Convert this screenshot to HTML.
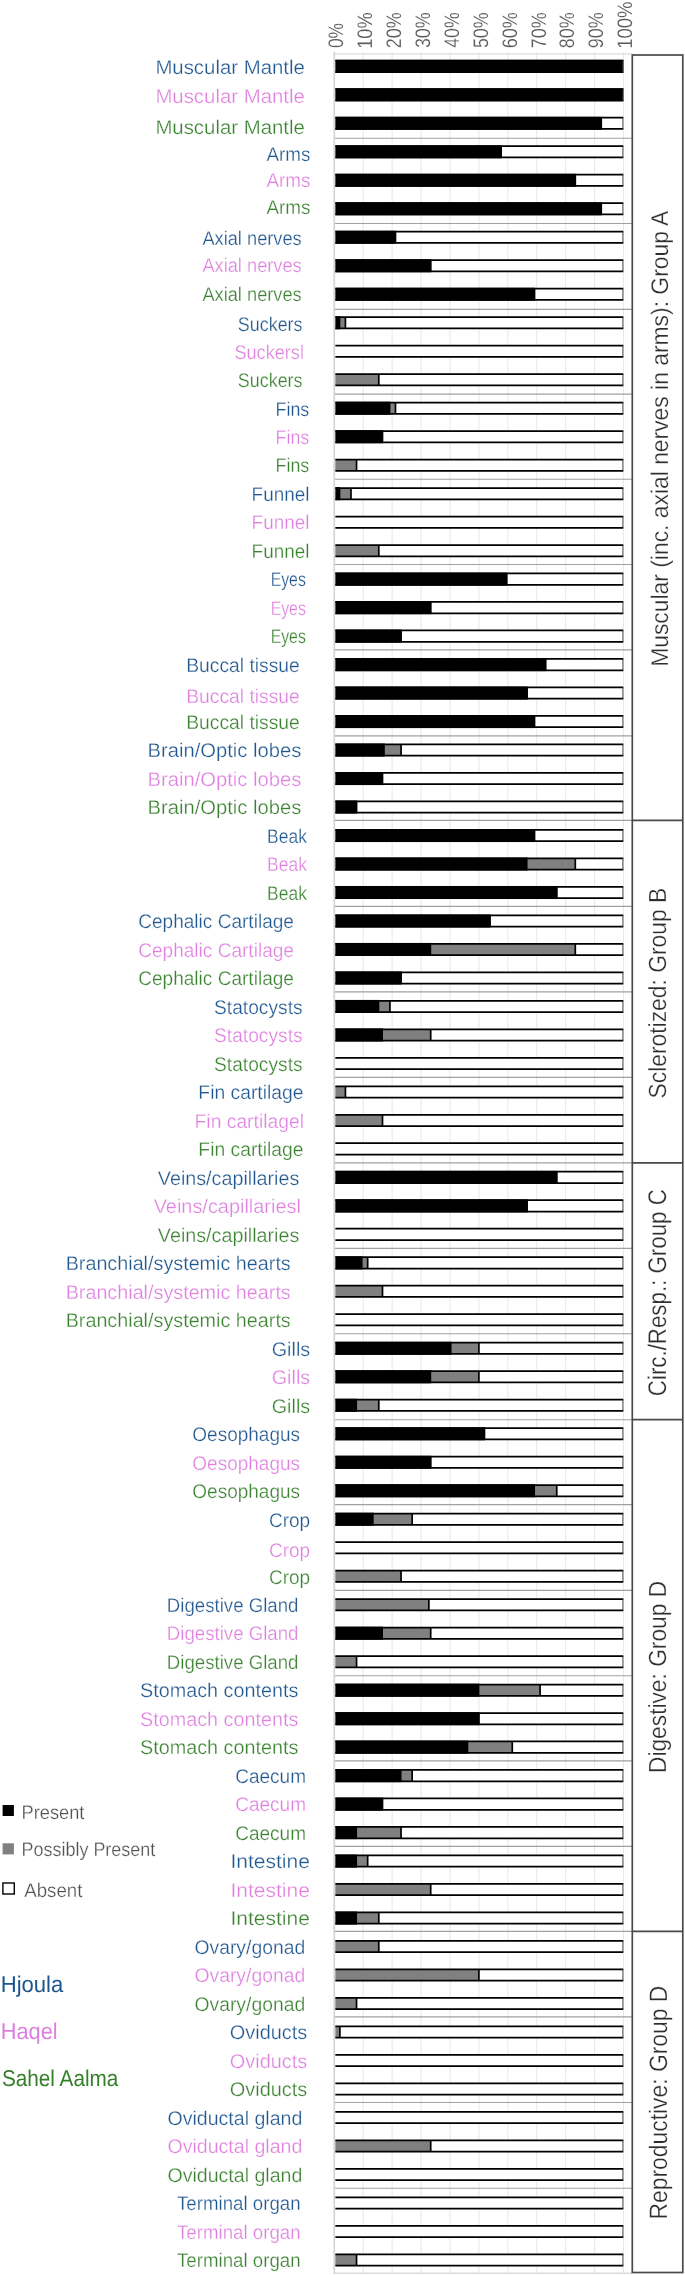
<!DOCTYPE html>
<html><head><meta charset="utf-8"><title>Chart</title>
<style>html,body{margin:0;padding:0;background:#fff}svg{display:block}</style></head>
<body>
<svg width="685" height="2276" viewBox="0 0 685 2276" font-family="'Liberation Sans', sans-serif" text-rendering="geometricPrecision">
<rect width="685" height="2276" fill="#fff"/>
<g stroke="#e9e9e9" stroke-width="1.1">
<line x1="334.30" y1="52.10" x2="334.30" y2="2273.90"/>
<line x1="363.22" y1="52.10" x2="363.22" y2="2273.90"/>
<line x1="392.14" y1="52.10" x2="392.14" y2="2273.90"/>
<line x1="421.06" y1="52.10" x2="421.06" y2="2273.90"/>
<line x1="449.98" y1="52.10" x2="449.98" y2="2273.90"/>
<line x1="478.90" y1="52.10" x2="478.90" y2="2273.90"/>
<line x1="507.82" y1="52.10" x2="507.82" y2="2273.90"/>
<line x1="536.74" y1="52.10" x2="536.74" y2="2273.90"/>
<line x1="565.66" y1="52.10" x2="565.66" y2="2273.90"/>
<line x1="594.58" y1="52.10" x2="594.58" y2="2273.90"/>
<line x1="623.50" y1="52.10" x2="623.50" y2="2273.90"/>
</g>
<g stroke="#a0a0a0" stroke-width="1.15">
<line x1="333.80" y1="138.26" x2="632.30" y2="138.26"/>
<line x1="333.80" y1="223.50" x2="632.30" y2="223.50"/>
<line x1="333.80" y1="309.30" x2="632.30" y2="309.30"/>
<line x1="333.80" y1="394.10" x2="632.30" y2="394.10"/>
<line x1="333.80" y1="479.20" x2="632.30" y2="479.20"/>
<line x1="333.80" y1="564.50" x2="632.30" y2="564.50"/>
<line x1="333.80" y1="649.90" x2="632.30" y2="649.90"/>
<line x1="333.80" y1="735.84" x2="632.30" y2="735.84"/>
<line x1="333.80" y1="820.40" x2="632.30" y2="820.40"/>
<line x1="333.80" y1="906.40" x2="632.30" y2="906.40"/>
<line x1="333.80" y1="991.80" x2="632.30" y2="991.80"/>
<line x1="333.80" y1="1077.40" x2="632.30" y2="1077.40"/>
<line x1="333.80" y1="1162.80" x2="632.30" y2="1162.80"/>
<line x1="333.80" y1="1248.36" x2="632.30" y2="1248.36"/>
<line x1="333.80" y1="1333.78" x2="632.30" y2="1333.78"/>
<line x1="333.80" y1="1419.70" x2="632.30" y2="1419.70"/>
<line x1="333.80" y1="1504.62" x2="632.30" y2="1504.62"/>
<line x1="333.80" y1="1590.30" x2="632.30" y2="1590.30"/>
<line x1="333.80" y1="1675.70" x2="632.30" y2="1675.70"/>
<line x1="333.80" y1="1760.90" x2="632.30" y2="1760.90"/>
<line x1="333.80" y1="1846.40" x2="632.30" y2="1846.40"/>
<line x1="333.80" y1="1931.30" x2="632.30" y2="1931.30"/>
<line x1="333.80" y1="2016.90" x2="632.30" y2="2016.90"/>
<line x1="333.80" y1="2102.50" x2="632.30" y2="2102.50"/>
<line x1="333.80" y1="2188.20" x2="632.30" y2="2188.20"/>
</g>
<g stroke="#dcdcdc" stroke-width="1.4">
<line x1="333.70" y1="53.9" x2="632.30" y2="53.9"/>
<line x1="333.70" y1="2273.2" x2="632.30" y2="2273.2"/>
</g>
<g><rect x="335.30" y="60.70" width="287.60" height="11.3" fill="#fff"/><rect x="335.30" y="59.82" width="288.10" height="13.05" fill="#000"/><rect x="335.30" y="89.19" width="287.60" height="11.3" fill="#fff"/><rect x="335.30" y="88.31" width="288.10" height="13.05" fill="#000"/><rect x="335.30" y="117.68" width="287.60" height="11.3" fill="#fff"/><rect x="335.30" y="116.80" width="266.45" height="13.05" fill="#000"/><rect x="335.30" y="146.16" width="287.60" height="11.3" fill="#fff"/><rect x="335.30" y="145.29" width="166.35" height="13.05" fill="#000"/><rect x="335.30" y="174.65" width="287.60" height="11.3" fill="#fff"/><rect x="335.30" y="173.78" width="240.50" height="13.05" fill="#000"/><rect x="335.30" y="203.14" width="287.60" height="11.3" fill="#fff"/><rect x="335.30" y="202.26" width="266.45" height="13.05" fill="#000"/><rect x="335.30" y="231.63" width="287.60" height="11.3" fill="#fff"/><rect x="335.30" y="230.75" width="60.68" height="13.05" fill="#000"/><rect x="335.30" y="260.12" width="287.60" height="11.3" fill="#fff"/><rect x="335.30" y="259.24" width="95.90" height="13.05" fill="#000"/><rect x="335.30" y="288.60" width="287.60" height="11.3" fill="#fff"/><rect x="335.30" y="287.73" width="199.72" height="13.05" fill="#000"/><rect x="335.30" y="317.09" width="287.60" height="11.3" fill="#fff"/><rect x="339.86" y="317.09" width="5.56" height="11.3" fill="#808080"/><rect x="335.30" y="316.22" width="5.06" height="13.05" fill="#000"/><rect x="335.30" y="345.58" width="287.60" height="11.3" fill="#fff"/><rect x="335.30" y="374.07" width="287.60" height="11.3" fill="#fff"/><rect x="335.30" y="374.07" width="43.49" height="11.3" fill="#808080"/><rect x="335.30" y="402.56" width="287.60" height="11.3" fill="#fff"/><rect x="389.92" y="402.56" width="5.56" height="11.3" fill="#808080"/><rect x="335.30" y="401.68" width="55.12" height="13.05" fill="#000"/><rect x="335.30" y="431.04" width="287.60" height="11.3" fill="#fff"/><rect x="335.30" y="430.17" width="47.70" height="13.05" fill="#000"/><rect x="335.30" y="459.53" width="287.60" height="11.3" fill="#fff"/><rect x="335.30" y="459.53" width="21.25" height="11.3" fill="#808080"/><rect x="335.30" y="488.02" width="287.60" height="11.3" fill="#fff"/><rect x="339.86" y="488.02" width="11.12" height="11.3" fill="#808080"/><rect x="335.30" y="487.14" width="5.06" height="13.05" fill="#000"/><rect x="335.30" y="516.51" width="287.60" height="11.3" fill="#fff"/><rect x="335.30" y="545.00" width="287.60" height="11.3" fill="#fff"/><rect x="335.30" y="545.00" width="43.49" height="11.3" fill="#808080"/><rect x="335.30" y="573.48" width="287.60" height="11.3" fill="#fff"/><rect x="335.30" y="572.61" width="171.91" height="13.05" fill="#000"/><rect x="335.30" y="601.97" width="287.60" height="11.3" fill="#fff"/><rect x="335.30" y="601.10" width="95.90" height="13.05" fill="#000"/><rect x="335.30" y="630.46" width="287.60" height="11.3" fill="#fff"/><rect x="335.30" y="629.59" width="66.24" height="13.05" fill="#000"/><rect x="335.30" y="658.95" width="287.60" height="11.3" fill="#fff"/><rect x="335.30" y="658.07" width="210.84" height="13.05" fill="#000"/><rect x="335.30" y="687.44" width="287.60" height="11.3" fill="#fff"/><rect x="335.30" y="686.56" width="192.30" height="13.05" fill="#000"/><rect x="335.30" y="715.92" width="287.60" height="11.3" fill="#fff"/><rect x="335.30" y="715.05" width="199.72" height="13.05" fill="#000"/><rect x="335.30" y="744.41" width="287.60" height="11.3" fill="#fff"/><rect x="384.35" y="744.41" width="16.68" height="11.3" fill="#808080"/><rect x="335.30" y="743.54" width="49.55" height="13.05" fill="#000"/><rect x="335.30" y="772.90" width="287.60" height="11.3" fill="#fff"/><rect x="335.30" y="772.03" width="47.70" height="13.05" fill="#000"/><rect x="335.30" y="801.39" width="287.60" height="11.3" fill="#fff"/><rect x="335.30" y="800.51" width="21.75" height="13.05" fill="#000"/><rect x="335.30" y="829.88" width="287.60" height="11.3" fill="#fff"/><rect x="335.30" y="829.00" width="199.72" height="13.05" fill="#000"/><rect x="335.30" y="858.36" width="287.60" height="11.3" fill="#fff"/><rect x="527.10" y="858.36" width="48.20" height="11.3" fill="#808080"/><rect x="335.30" y="857.49" width="192.30" height="13.05" fill="#000"/><rect x="335.30" y="886.85" width="287.60" height="11.3" fill="#fff"/><rect x="335.30" y="885.98" width="221.96" height="13.05" fill="#000"/><rect x="335.30" y="915.34" width="287.60" height="11.3" fill="#fff"/><rect x="335.30" y="914.47" width="155.22" height="13.05" fill="#000"/><rect x="335.30" y="943.83" width="287.60" height="11.3" fill="#fff"/><rect x="430.70" y="943.83" width="144.60" height="11.3" fill="#808080"/><rect x="335.30" y="942.95" width="95.90" height="13.05" fill="#000"/><rect x="335.30" y="972.32" width="287.60" height="11.3" fill="#fff"/><rect x="335.30" y="971.44" width="66.24" height="13.05" fill="#000"/><rect x="335.30" y="1000.80" width="287.60" height="11.3" fill="#fff"/><rect x="378.79" y="1000.80" width="11.12" height="11.3" fill="#808080"/><rect x="335.30" y="999.93" width="43.99" height="13.05" fill="#000"/><rect x="335.30" y="1029.29" width="287.60" height="11.3" fill="#fff"/><rect x="382.50" y="1029.29" width="48.20" height="11.3" fill="#808080"/><rect x="335.30" y="1028.42" width="47.70" height="13.05" fill="#000"/><rect x="335.30" y="1057.78" width="287.60" height="11.3" fill="#fff"/><rect x="335.30" y="1086.27" width="287.60" height="11.3" fill="#fff"/><rect x="335.30" y="1086.27" width="10.12" height="11.3" fill="#808080"/><rect x="335.30" y="1114.76" width="287.60" height="11.3" fill="#fff"/><rect x="335.30" y="1114.76" width="47.20" height="11.3" fill="#808080"/><rect x="335.30" y="1143.24" width="287.60" height="11.3" fill="#fff"/><rect x="335.30" y="1171.73" width="287.60" height="11.3" fill="#fff"/><rect x="335.30" y="1170.86" width="221.96" height="13.05" fill="#000"/><rect x="335.30" y="1200.22" width="287.60" height="11.3" fill="#fff"/><rect x="335.30" y="1199.34" width="192.30" height="13.05" fill="#000"/><rect x="335.30" y="1228.71" width="287.60" height="11.3" fill="#fff"/><rect x="335.30" y="1257.20" width="287.60" height="11.3" fill="#fff"/><rect x="362.11" y="1257.20" width="5.56" height="11.3" fill="#808080"/><rect x="335.30" y="1256.32" width="27.31" height="13.05" fill="#000"/><rect x="335.30" y="1285.68" width="287.60" height="11.3" fill="#fff"/><rect x="335.30" y="1285.68" width="47.20" height="11.3" fill="#808080"/><rect x="335.30" y="1314.17" width="287.60" height="11.3" fill="#fff"/><rect x="335.30" y="1342.66" width="287.60" height="11.3" fill="#fff"/><rect x="451.09" y="1342.66" width="27.81" height="11.3" fill="#808080"/><rect x="335.30" y="1341.78" width="116.29" height="13.05" fill="#000"/><rect x="335.30" y="1371.15" width="287.60" height="11.3" fill="#fff"/><rect x="430.70" y="1371.15" width="48.20" height="11.3" fill="#808080"/><rect x="335.30" y="1370.27" width="95.90" height="13.05" fill="#000"/><rect x="335.30" y="1399.64" width="287.60" height="11.3" fill="#fff"/><rect x="356.55" y="1399.64" width="22.25" height="11.3" fill="#808080"/><rect x="335.30" y="1398.76" width="21.75" height="13.05" fill="#000"/><rect x="335.30" y="1428.12" width="287.60" height="11.3" fill="#fff"/><rect x="335.30" y="1427.25" width="149.66" height="13.05" fill="#000"/><rect x="335.30" y="1456.61" width="287.60" height="11.3" fill="#fff"/><rect x="335.30" y="1455.74" width="95.90" height="13.05" fill="#000"/><rect x="335.30" y="1485.10" width="287.60" height="11.3" fill="#fff"/><rect x="534.52" y="1485.10" width="22.25" height="11.3" fill="#808080"/><rect x="335.30" y="1484.22" width="199.72" height="13.05" fill="#000"/><rect x="335.30" y="1513.59" width="287.60" height="11.3" fill="#fff"/><rect x="373.23" y="1513.59" width="38.93" height="11.3" fill="#808080"/><rect x="335.30" y="1512.71" width="38.43" height="13.05" fill="#000"/><rect x="335.30" y="1542.08" width="287.60" height="11.3" fill="#fff"/><rect x="335.30" y="1570.56" width="287.60" height="11.3" fill="#fff"/><rect x="335.30" y="1570.56" width="65.74" height="11.3" fill="#808080"/><rect x="335.30" y="1599.05" width="287.60" height="11.3" fill="#fff"/><rect x="335.30" y="1599.05" width="93.55" height="11.3" fill="#808080"/><rect x="335.30" y="1627.54" width="287.60" height="11.3" fill="#fff"/><rect x="382.50" y="1627.54" width="48.20" height="11.3" fill="#808080"/><rect x="335.30" y="1626.66" width="47.70" height="13.05" fill="#000"/><rect x="335.30" y="1656.03" width="287.60" height="11.3" fill="#fff"/><rect x="335.30" y="1656.03" width="21.25" height="11.3" fill="#808080"/><rect x="335.30" y="1684.52" width="287.60" height="11.3" fill="#fff"/><rect x="478.90" y="1684.52" width="61.18" height="11.3" fill="#808080"/><rect x="335.30" y="1683.64" width="144.10" height="13.05" fill="#000"/><rect x="335.30" y="1713.00" width="287.60" height="11.3" fill="#fff"/><rect x="335.30" y="1712.13" width="144.10" height="13.05" fill="#000"/><rect x="335.30" y="1741.49" width="287.60" height="11.3" fill="#fff"/><rect x="467.78" y="1741.49" width="44.49" height="11.3" fill="#808080"/><rect x="335.30" y="1740.62" width="132.98" height="13.05" fill="#000"/><rect x="335.30" y="1769.98" width="287.60" height="11.3" fill="#fff"/><rect x="401.04" y="1769.98" width="11.12" height="11.3" fill="#808080"/><rect x="335.30" y="1769.10" width="66.24" height="13.05" fill="#000"/><rect x="335.30" y="1798.47" width="287.60" height="11.3" fill="#fff"/><rect x="335.30" y="1797.59" width="47.70" height="13.05" fill="#000"/><rect x="335.30" y="1826.96" width="287.60" height="11.3" fill="#fff"/><rect x="356.55" y="1826.96" width="44.49" height="11.3" fill="#808080"/><rect x="335.30" y="1826.08" width="21.75" height="13.05" fill="#000"/><rect x="335.30" y="1855.44" width="287.60" height="11.3" fill="#fff"/><rect x="356.55" y="1855.44" width="11.12" height="11.3" fill="#808080"/><rect x="335.30" y="1854.57" width="21.75" height="13.05" fill="#000"/><rect x="335.30" y="1883.93" width="287.60" height="11.3" fill="#fff"/><rect x="335.30" y="1883.93" width="95.40" height="11.3" fill="#808080"/><rect x="335.30" y="1912.42" width="287.60" height="11.3" fill="#fff"/><rect x="356.55" y="1912.42" width="22.25" height="11.3" fill="#808080"/><rect x="335.30" y="1911.54" width="21.75" height="13.05" fill="#000"/><rect x="335.30" y="1940.91" width="287.60" height="11.3" fill="#fff"/><rect x="335.30" y="1940.91" width="43.49" height="11.3" fill="#808080"/><rect x="335.30" y="1969.40" width="287.60" height="11.3" fill="#fff"/><rect x="335.30" y="1969.40" width="143.60" height="11.3" fill="#808080"/><rect x="335.30" y="1997.88" width="287.60" height="11.3" fill="#fff"/><rect x="335.30" y="1997.88" width="21.25" height="11.3" fill="#808080"/><rect x="335.30" y="2026.37" width="287.60" height="11.3" fill="#fff"/><rect x="335.30" y="2026.37" width="4.56" height="11.3" fill="#808080"/><rect x="335.30" y="2054.86" width="287.60" height="11.3" fill="#fff"/><rect x="335.30" y="2083.35" width="287.60" height="11.3" fill="#fff"/><rect x="335.30" y="2111.84" width="287.60" height="11.3" fill="#fff"/><rect x="335.30" y="2140.32" width="287.60" height="11.3" fill="#fff"/><rect x="335.30" y="2140.32" width="95.40" height="11.3" fill="#808080"/><rect x="335.30" y="2168.81" width="287.60" height="11.3" fill="#fff"/><rect x="335.30" y="2197.30" width="287.60" height="11.3" fill="#fff"/><rect x="335.30" y="2225.79" width="287.60" height="11.3" fill="#fff"/><rect x="335.30" y="2254.28" width="287.60" height="11.3" fill="#fff"/><rect x="335.30" y="2254.28" width="21.25" height="11.3" fill="#808080"/></g>
<g stroke="#000" stroke-width="1.75" fill="none"><path d="M335.30 60.70H623.30M335.30 72.00H623.30"/><path d="M335.30 89.19H623.30M335.30 100.49H623.30"/><path d="M335.30 117.68H623.30M335.30 128.98H623.30"/><path d="M335.30 146.16H623.30M335.30 157.46H623.30"/><path d="M335.30 174.65H623.30M335.30 185.95H623.30"/><path d="M335.30 203.14H623.30M335.30 214.44H623.30"/><path d="M335.30 231.63H623.30M335.30 242.93H623.30"/><path d="M335.30 260.12H623.30M335.30 271.42H623.30"/><path d="M335.30 288.60H623.30M335.30 299.90H623.30"/><path d="M335.30 317.09H623.30M335.30 328.39H623.30"/><path d="M335.30 345.58H623.30M335.30 356.88H623.30"/><path d="M335.30 374.07H623.30M335.30 385.37H623.30"/><path d="M335.30 402.56H623.30M335.30 413.86H623.30"/><path d="M335.30 431.04H623.30M335.30 442.34H623.30"/><path d="M335.30 459.53H623.30M335.30 470.83H623.30"/><path d="M335.30 488.02H623.30M335.30 499.32H623.30"/><path d="M335.30 516.51H623.30M335.30 527.81H623.30"/><path d="M335.30 545.00H623.30M335.30 556.30H623.30"/><path d="M335.30 573.48H623.30M335.30 584.78H623.30"/><path d="M335.30 601.97H623.30M335.30 613.27H623.30"/><path d="M335.30 630.46H623.30M335.30 641.76H623.30"/><path d="M335.30 658.95H623.30M335.30 670.25H623.30"/><path d="M335.30 687.44H623.30M335.30 698.74H623.30"/><path d="M335.30 715.92H623.30M335.30 727.22H623.30"/><path d="M335.30 744.41H623.30M335.30 755.71H623.30"/><path d="M335.30 772.90H623.30M335.30 784.20H623.30"/><path d="M335.30 801.39H623.30M335.30 812.69H623.30"/><path d="M335.30 829.88H623.30M335.30 841.18H623.30"/><path d="M335.30 858.36H623.30M335.30 869.66H623.30"/><path d="M335.30 886.85H623.30M335.30 898.15H623.30"/><path d="M335.30 915.34H623.30M335.30 926.64H623.30"/><path d="M335.30 943.83H623.30M335.30 955.13H623.30"/><path d="M335.30 972.32H623.30M335.30 983.62H623.30"/><path d="M335.30 1000.80H623.30M335.30 1012.10H623.30"/><path d="M335.30 1029.29H623.30M335.30 1040.59H623.30"/><path d="M335.30 1057.78H623.30M335.30 1069.08H623.30"/><path d="M335.30 1086.27H623.30M335.30 1097.57H623.30"/><path d="M335.30 1114.76H623.30M335.30 1126.06H623.30"/><path d="M335.30 1143.24H623.30M335.30 1154.54H623.30"/><path d="M335.30 1171.73H623.30M335.30 1183.03H623.30"/><path d="M335.30 1200.22H623.30M335.30 1211.52H623.30"/><path d="M335.30 1228.71H623.30M335.30 1240.01H623.30"/><path d="M335.30 1257.20H623.30M335.30 1268.50H623.30"/><path d="M335.30 1285.68H623.30M335.30 1296.98H623.30"/><path d="M335.30 1314.17H623.30M335.30 1325.47H623.30"/><path d="M335.30 1342.66H623.30M335.30 1353.96H623.30"/><path d="M335.30 1371.15H623.30M335.30 1382.45H623.30"/><path d="M335.30 1399.64H623.30M335.30 1410.94H623.30"/><path d="M335.30 1428.12H623.30M335.30 1439.42H623.30"/><path d="M335.30 1456.61H623.30M335.30 1467.91H623.30"/><path d="M335.30 1485.10H623.30M335.30 1496.40H623.30"/><path d="M335.30 1513.59H623.30M335.30 1524.89H623.30"/><path d="M335.30 1542.08H623.30M335.30 1553.38H623.30"/><path d="M335.30 1570.56H623.30M335.30 1581.86H623.30"/><path d="M335.30 1599.05H623.30M335.30 1610.35H623.30"/><path d="M335.30 1627.54H623.30M335.30 1638.84H623.30"/><path d="M335.30 1656.03H623.30M335.30 1667.33H623.30"/><path d="M335.30 1684.52H623.30M335.30 1695.82H623.30"/><path d="M335.30 1713.00H623.30M335.30 1724.30H623.30"/><path d="M335.30 1741.49H623.30M335.30 1752.79H623.30"/><path d="M335.30 1769.98H623.30M335.30 1781.28H623.30"/><path d="M335.30 1798.47H623.30M335.30 1809.77H623.30"/><path d="M335.30 1826.96H623.30M335.30 1838.26H623.30"/><path d="M335.30 1855.44H623.30M335.30 1866.74H623.30"/><path d="M335.30 1883.93H623.30M335.30 1895.23H623.30"/><path d="M335.30 1912.42H623.30M335.30 1923.72H623.30"/><path d="M335.30 1940.91H623.30M335.30 1952.21H623.30"/><path d="M335.30 1969.40H623.30M335.30 1980.70H623.30"/><path d="M335.30 1997.88H623.30M335.30 2009.18H623.30"/><path d="M335.30 2026.37H623.30M335.30 2037.67H623.30"/><path d="M335.30 2054.86H623.30M335.30 2066.16H623.30"/><path d="M335.30 2083.35H623.30M335.30 2094.65H623.30"/><path d="M335.30 2111.84H623.30M335.30 2123.14H623.30"/><path d="M335.30 2140.32H623.30M335.30 2151.62H623.30"/><path d="M335.30 2168.81H623.30M335.30 2180.11H623.30"/><path d="M335.30 2197.30H623.30M335.30 2208.60H623.30"/><path d="M335.30 2225.79H623.30M335.30 2237.09H623.30"/><path d="M335.30 2254.28H623.30M335.30 2265.58H623.30"/></g>
<g stroke="#000" stroke-width="1.7" fill="none"><path d="M601.25 117.68V128.98"/><path d="M501.15 146.16V157.46"/><path d="M575.30 174.65V185.95"/><path d="M601.25 203.14V214.44"/><path d="M395.48 231.63V242.93"/><path d="M430.70 260.12V271.42"/><path d="M534.52 288.60V299.90"/><path d="M345.42 317.09V328.39"/><path d="M378.79 374.07V385.37"/><path d="M395.48 402.56V413.86"/><path d="M382.50 431.04V442.34"/><path d="M356.55 459.53V470.83"/><path d="M350.98 488.02V499.32"/><path d="M378.79 545.00V556.30"/><path d="M506.71 573.48V584.78"/><path d="M430.70 601.97V613.27"/><path d="M401.04 630.46V641.76"/><path d="M545.64 658.95V670.25"/><path d="M527.10 687.44V698.74"/><path d="M534.52 715.92V727.22"/><path d="M401.04 744.41V755.71"/><path d="M382.50 772.90V784.20"/><path d="M356.55 801.39V812.69"/><path d="M534.52 829.88V841.18"/><path d="M575.30 858.36V869.66"/><path d="M556.76 886.85V898.15"/><path d="M490.02 915.34V926.64"/><path d="M575.30 943.83V955.13"/><path d="M401.04 972.32V983.62"/><path d="M389.92 1000.80V1012.10"/><path d="M430.70 1029.29V1040.59"/><path d="M345.42 1086.27V1097.57"/><path d="M382.50 1114.76V1126.06"/><path d="M556.76 1171.73V1183.03"/><path d="M527.10 1200.22V1211.52"/><path d="M367.67 1257.20V1268.50"/><path d="M382.50 1285.68V1296.98"/><path d="M478.90 1342.66V1353.96"/><path d="M478.90 1371.15V1382.45"/><path d="M378.79 1399.64V1410.94"/><path d="M484.46 1428.12V1439.42"/><path d="M430.70 1456.61V1467.91"/><path d="M556.76 1485.10V1496.40"/><path d="M412.16 1513.59V1524.89"/><path d="M401.04 1570.56V1581.86"/><path d="M428.85 1599.05V1610.35"/><path d="M430.70 1627.54V1638.84"/><path d="M356.55 1656.03V1667.33"/><path d="M540.08 1684.52V1695.82"/><path d="M478.90 1713.00V1724.30"/><path d="M512.27 1741.49V1752.79"/><path d="M412.16 1769.98V1781.28"/><path d="M382.50 1798.47V1809.77"/><path d="M401.04 1826.96V1838.26"/><path d="M367.67 1855.44V1866.74"/><path d="M430.70 1883.93V1895.23"/><path d="M378.79 1912.42V1923.72"/><path d="M378.79 1940.91V1952.21"/><path d="M478.90 1969.40V1980.70"/><path d="M356.55 1997.88V2009.18"/><path d="M339.86 2026.37V2037.67"/><path d="M430.70 2140.32V2151.62"/><path d="M356.55 2254.28V2265.58"/></g>
<g stroke="#3a3a3a" stroke-width="0.9" fill="none"><path d="M622.90 60.70V72.00"/><path d="M622.90 89.19V100.49"/><path d="M622.90 117.68V128.98"/><path d="M622.90 146.16V157.46"/><path d="M622.90 174.65V185.95"/><path d="M622.90 203.14V214.44"/><path d="M622.90 231.63V242.93"/><path d="M622.90 260.12V271.42"/><path d="M622.90 288.60V299.90"/><path d="M622.90 317.09V328.39"/><path d="M622.90 345.58V356.88"/><path d="M622.90 374.07V385.37"/><path d="M622.90 402.56V413.86"/><path d="M622.90 431.04V442.34"/><path d="M622.90 459.53V470.83"/><path d="M622.90 488.02V499.32"/><path d="M622.90 516.51V527.81"/><path d="M622.90 545.00V556.30"/><path d="M622.90 573.48V584.78"/><path d="M622.90 601.97V613.27"/><path d="M622.90 630.46V641.76"/><path d="M622.90 658.95V670.25"/><path d="M622.90 687.44V698.74"/><path d="M622.90 715.92V727.22"/><path d="M622.90 744.41V755.71"/><path d="M622.90 772.90V784.20"/><path d="M622.90 801.39V812.69"/><path d="M622.90 829.88V841.18"/><path d="M622.90 858.36V869.66"/><path d="M622.90 886.85V898.15"/><path d="M622.90 915.34V926.64"/><path d="M622.90 943.83V955.13"/><path d="M622.90 972.32V983.62"/><path d="M622.90 1000.80V1012.10"/><path d="M622.90 1029.29V1040.59"/><path d="M622.90 1057.78V1069.08"/><path d="M622.90 1086.27V1097.57"/><path d="M622.90 1114.76V1126.06"/><path d="M622.90 1143.24V1154.54"/><path d="M622.90 1171.73V1183.03"/><path d="M622.90 1200.22V1211.52"/><path d="M622.90 1228.71V1240.01"/><path d="M622.90 1257.20V1268.50"/><path d="M622.90 1285.68V1296.98"/><path d="M622.90 1314.17V1325.47"/><path d="M622.90 1342.66V1353.96"/><path d="M622.90 1371.15V1382.45"/><path d="M622.90 1399.64V1410.94"/><path d="M622.90 1428.12V1439.42"/><path d="M622.90 1456.61V1467.91"/><path d="M622.90 1485.10V1496.40"/><path d="M622.90 1513.59V1524.89"/><path d="M622.90 1542.08V1553.38"/><path d="M622.90 1570.56V1581.86"/><path d="M622.90 1599.05V1610.35"/><path d="M622.90 1627.54V1638.84"/><path d="M622.90 1656.03V1667.33"/><path d="M622.90 1684.52V1695.82"/><path d="M622.90 1713.00V1724.30"/><path d="M622.90 1741.49V1752.79"/><path d="M622.90 1769.98V1781.28"/><path d="M622.90 1798.47V1809.77"/><path d="M622.90 1826.96V1838.26"/><path d="M622.90 1855.44V1866.74"/><path d="M622.90 1883.93V1895.23"/><path d="M622.90 1912.42V1923.72"/><path d="M622.90 1940.91V1952.21"/><path d="M622.90 1969.40V1980.70"/><path d="M622.90 1997.88V2009.18"/><path d="M622.90 2026.37V2037.67"/><path d="M622.90 2054.86V2066.16"/><path d="M622.90 2083.35V2094.65"/><path d="M622.90 2111.84V2123.14"/><path d="M622.90 2140.32V2151.62"/><path d="M622.90 2168.81V2180.11"/><path d="M622.90 2197.30V2208.60"/><path d="M622.90 2225.79V2237.09"/><path d="M622.90 2254.28V2265.58"/></g>
<line x1="334.30" y1="52.10" x2="334.30" y2="2273.90" stroke="#d4d4d4" stroke-width="1.6"/>
<g stroke="#4a4a4a" stroke-width="1.7" fill="none">
<rect x="632.3" y="55.0" width="50.50" height="2217.50"/>
<line x1="632.3" y1="820.40" x2="682.8" y2="820.40"/>
<line x1="632.3" y1="1162.80" x2="682.8" y2="1162.80"/>
<line x1="632.3" y1="1419.70" x2="682.8" y2="1419.70"/>
<line x1="632.3" y1="1931.30" x2="682.8" y2="1931.30"/>
</g>
<g opacity="0.999">
<text transform="translate(668.10,666.83) rotate(-90) scale(0.9475,1)" font-size="24.13" fill="#2e2e2e" stroke="#fff" stroke-width="0.28">Muscular (inc. axial nerves in arms): Group A</text>
<text transform="translate(666.10,1098.49) rotate(-90) scale(0.9226,1)" font-size="24.78" fill="#2e2e2e" stroke="#fff" stroke-width="0.28">Sclerotized: Group B</text>
<text transform="translate(666.40,1396.18) rotate(-90) scale(0.8719,1)" font-size="25.58" fill="#2e2e2e" stroke="#fff" stroke-width="0.28">Circ./Resp.: Group C</text>
<text transform="translate(666.10,1773.02) rotate(-90) scale(0.9184,1)" font-size="24.78" fill="#2e2e2e" stroke="#fff" stroke-width="0.28">Digestive: Group D</text>
<text transform="translate(667.40,2219.43) rotate(-90) scale(0.9093,1)" font-size="25.15" fill="#2e2e2e" stroke="#fff" stroke-width="0.28">Reproductive: Group D</text>
<text transform="translate(343.10,48.08) rotate(-90) scale(0.8269,1)" font-size="21.0" fill="#5a5a5a" stroke="#fff" stroke-width="0.15">0%</text>
<text transform="translate(372.02,48.79) rotate(-90) scale(0.8669,1)" font-size="21.0" fill="#5a5a5a" stroke="#fff" stroke-width="0.15">10%</text>
<text transform="translate(400.94,48.30) rotate(-90) scale(0.8552,1)" font-size="21.0" fill="#5a5a5a" stroke="#fff" stroke-width="0.15">20%</text>
<text transform="translate(429.86,48.08) rotate(-90) scale(0.8498,1)" font-size="21.0" fill="#5a5a5a" stroke="#fff" stroke-width="0.15">30%</text>
<text transform="translate(458.78,47.81) rotate(-90) scale(0.8431,1)" font-size="21.0" fill="#5a5a5a" stroke="#fff" stroke-width="0.15">40%</text>
<text transform="translate(487.70,48.12) rotate(-90) scale(0.8506,1)" font-size="21.0" fill="#5a5a5a" stroke="#fff" stroke-width="0.15">50%</text>
<text transform="translate(516.62,48.31) rotate(-90) scale(0.8554,1)" font-size="21.0" fill="#5a5a5a" stroke="#fff" stroke-width="0.15">60%</text>
<text transform="translate(545.54,48.32) rotate(-90) scale(0.8556,1)" font-size="21.0" fill="#5a5a5a" stroke="#fff" stroke-width="0.15">70%</text>
<text transform="translate(574.46,48.18) rotate(-90) scale(0.8521,1)" font-size="21.0" fill="#5a5a5a" stroke="#fff" stroke-width="0.15">80%</text>
<text transform="translate(603.38,48.24) rotate(-90) scale(0.8536,1)" font-size="21.0" fill="#5a5a5a" stroke="#fff" stroke-width="0.15">90%</text>
<text transform="translate(632.30,48.81) rotate(-90) scale(0.8800,1)" font-size="21.0" fill="#5a5a5a" stroke="#fff" stroke-width="0.15">100%</text>
<text transform="translate(155.38,73.80) scale(1.0298,1)" font-size="19.8" fill="#20578f" stroke="#fff" stroke-width="0.28">Muscular Mantle</text>
<text transform="translate(155.38,102.50) scale(1.0298,1)" font-size="19.8" fill="#df7fe0" stroke="#fff" stroke-width="0.28">Muscular Mantle</text>
<text transform="translate(155.38,134.00) scale(1.0298,1)" font-size="19.8" fill="#3a8230" stroke="#fff" stroke-width="0.28">Muscular Mantle</text>
<text transform="translate(266.51,161.40) scale(0.9529,1)" font-size="19.8" fill="#20578f" stroke="#fff" stroke-width="0.28">Arms</text>
<text transform="translate(266.51,187.20) scale(0.9529,1)" font-size="19.8" fill="#df7fe0" stroke="#fff" stroke-width="0.28">Arms</text>
<text transform="translate(266.51,213.80) scale(0.9529,1)" font-size="19.8" fill="#3a8230" stroke="#fff" stroke-width="0.28">Arms</text>
<text transform="translate(202.41,244.50) scale(0.9216,1)" font-size="19.8" fill="#20578f" stroke="#fff" stroke-width="0.28">Axial nerves</text>
<text transform="translate(202.41,272.00) scale(0.9216,1)" font-size="19.8" fill="#df7fe0" stroke="#fff" stroke-width="0.28">Axial nerves</text>
<text transform="translate(202.41,301.10) scale(0.9216,1)" font-size="19.8" fill="#3a8230" stroke="#fff" stroke-width="0.28">Axial nerves</text>
<text transform="translate(237.84,330.70) scale(0.9055,1)" font-size="19.8" fill="#20578f" stroke="#fff" stroke-width="0.28">Suckers</text>
<text transform="translate(234.43,358.90) scale(0.9159,1)" font-size="19.8" fill="#df7fe0" stroke="#fff" stroke-width="0.28">Suckersl</text>
<text transform="translate(237.84,387.20) scale(0.9055,1)" font-size="19.8" fill="#3a8230" stroke="#fff" stroke-width="0.28">Suckers</text>
<text transform="translate(275.48,415.51) scale(0.9040,1)" font-size="19.8" fill="#20578f" stroke="#fff" stroke-width="0.28">Fins</text>
<text transform="translate(275.48,443.99) scale(0.9040,1)" font-size="19.8" fill="#df7fe0" stroke="#fff" stroke-width="0.28">Fins</text>
<text transform="translate(275.48,472.48) scale(0.9040,1)" font-size="19.8" fill="#3a8230" stroke="#fff" stroke-width="0.28">Fins</text>
<text transform="translate(251.60,500.97) scale(0.9550,1)" font-size="19.8" fill="#20578f" stroke="#fff" stroke-width="0.28">Funnel</text>
<text transform="translate(251.60,529.46) scale(0.9550,1)" font-size="19.8" fill="#df7fe0" stroke="#fff" stroke-width="0.28">Funnel</text>
<text transform="translate(251.60,557.95) scale(0.9550,1)" font-size="19.8" fill="#3a8230" stroke="#fff" stroke-width="0.28">Funnel</text>
<text transform="translate(270.65,586.43) scale(0.7990,1)" font-size="19.8" fill="#20578f" stroke="#fff" stroke-width="0.28">Eyes</text>
<text transform="translate(270.65,614.92) scale(0.7990,1)" font-size="19.8" fill="#df7fe0" stroke="#fff" stroke-width="0.28">Eyes</text>
<text transform="translate(270.65,643.41) scale(0.7990,1)" font-size="19.8" fill="#3a8230" stroke="#fff" stroke-width="0.28">Eyes</text>
<text transform="translate(186.27,671.90) scale(0.9742,1)" font-size="19.8" fill="#20578f" stroke="#fff" stroke-width="0.28">Buccal tissue</text>
<text transform="translate(186.27,702.70) scale(0.9742,1)" font-size="19.8" fill="#df7fe0" stroke="#fff" stroke-width="0.28">Buccal tissue</text>
<text transform="translate(186.27,728.87) scale(0.9742,1)" font-size="19.8" fill="#3a8230" stroke="#fff" stroke-width="0.28">Buccal tissue</text>
<text transform="translate(147.49,757.36) scale(1.0213,1)" font-size="19.8" fill="#20578f" stroke="#fff" stroke-width="0.28">Brain/Optic lobes</text>
<text transform="translate(147.49,785.85) scale(1.0213,1)" font-size="19.8" fill="#df7fe0" stroke="#fff" stroke-width="0.28">Brain/Optic lobes</text>
<text transform="translate(147.49,814.34) scale(1.0213,1)" font-size="19.8" fill="#3a8230" stroke="#fff" stroke-width="0.28">Brain/Optic lobes</text>
<text transform="translate(267.12,842.83) scale(0.8821,1)" font-size="19.8" fill="#20578f" stroke="#fff" stroke-width="0.28">Beak</text>
<text transform="translate(267.12,871.31) scale(0.8821,1)" font-size="19.8" fill="#df7fe0" stroke="#fff" stroke-width="0.28">Beak</text>
<text transform="translate(267.12,899.80) scale(0.8821,1)" font-size="19.8" fill="#3a8230" stroke="#fff" stroke-width="0.28">Beak</text>
<text transform="translate(138.18,928.29) scale(0.9637,1)" font-size="19.8" fill="#20578f" stroke="#fff" stroke-width="0.28">Cephalic Cartilage</text>
<text transform="translate(138.18,956.78) scale(0.9637,1)" font-size="19.8" fill="#df7fe0" stroke="#fff" stroke-width="0.28">Cephalic Cartilage</text>
<text transform="translate(138.18,985.27) scale(0.9637,1)" font-size="19.8" fill="#3a8230" stroke="#fff" stroke-width="0.28">Cephalic Cartilage</text>
<text transform="translate(214.08,1013.75) scale(0.9697,1)" font-size="19.8" fill="#20578f" stroke="#fff" stroke-width="0.28">Statocysts</text>
<text transform="translate(214.08,1042.24) scale(0.9697,1)" font-size="19.8" fill="#df7fe0" stroke="#fff" stroke-width="0.28">Statocysts</text>
<text transform="translate(214.08,1070.73) scale(0.9697,1)" font-size="19.8" fill="#3a8230" stroke="#fff" stroke-width="0.28">Statocysts</text>
<text transform="translate(198.36,1099.22) scale(0.9759,1)" font-size="19.8" fill="#20578f" stroke="#fff" stroke-width="0.28">Fin cartilage</text>
<text transform="translate(194.57,1127.71) scale(0.9753,1)" font-size="19.8" fill="#df7fe0" stroke="#fff" stroke-width="0.28">Fin cartilagel</text>
<text transform="translate(198.36,1156.19) scale(0.9759,1)" font-size="19.8" fill="#3a8230" stroke="#fff" stroke-width="0.28">Fin cartilage</text>
<text transform="translate(157.86,1184.68) scale(0.9974,1)" font-size="19.8" fill="#20578f" stroke="#fff" stroke-width="0.28">Veins/capillaries</text>
<text transform="translate(153.66,1213.17) scale(1.0065,1)" font-size="19.8" fill="#df7fe0" stroke="#fff" stroke-width="0.28">Veins/capillariesl</text>
<text transform="translate(157.86,1241.66) scale(0.9974,1)" font-size="19.8" fill="#3a8230" stroke="#fff" stroke-width="0.28">Veins/capillaries</text>
<text transform="translate(65.63,1270.15) scale(0.9989,1)" font-size="19.8" fill="#20578f" stroke="#fff" stroke-width="0.28">Branchial/systemic hearts</text>
<text transform="translate(65.63,1298.63) scale(0.9989,1)" font-size="19.8" fill="#df7fe0" stroke="#fff" stroke-width="0.28">Branchial/systemic hearts</text>
<text transform="translate(65.63,1327.12) scale(0.9989,1)" font-size="19.8" fill="#3a8230" stroke="#fff" stroke-width="0.28">Branchial/systemic hearts</text>
<text transform="translate(271.76,1355.61) scale(0.9976,1)" font-size="19.8" fill="#20578f" stroke="#fff" stroke-width="0.28">Gills</text>
<text transform="translate(271.76,1384.10) scale(0.9976,1)" font-size="19.8" fill="#df7fe0" stroke="#fff" stroke-width="0.28">Gills</text>
<text transform="translate(271.76,1412.59) scale(0.9976,1)" font-size="19.8" fill="#3a8230" stroke="#fff" stroke-width="0.28">Gills</text>
<text transform="translate(192.35,1441.07) scale(0.9600,1)" font-size="19.8" fill="#20578f" stroke="#fff" stroke-width="0.28">Oesophagus</text>
<text transform="translate(192.35,1469.56) scale(0.9600,1)" font-size="19.8" fill="#df7fe0" stroke="#fff" stroke-width="0.28">Oesophagus</text>
<text transform="translate(192.35,1498.05) scale(0.9600,1)" font-size="19.8" fill="#3a8230" stroke="#fff" stroke-width="0.28">Oesophagus</text>
<text transform="translate(268.88,1526.54) scale(0.9640,1)" font-size="19.8" fill="#20578f" stroke="#fff" stroke-width="0.28">Crop</text>
<text transform="translate(268.88,1557.00) scale(0.9640,1)" font-size="19.8" fill="#df7fe0" stroke="#fff" stroke-width="0.28">Crop</text>
<text transform="translate(268.88,1583.51) scale(0.9640,1)" font-size="19.8" fill="#3a8230" stroke="#fff" stroke-width="0.28">Crop</text>
<text transform="translate(166.82,1612.00) scale(0.9425,1)" font-size="19.8" fill="#20578f" stroke="#fff" stroke-width="0.28">Digestive Gland</text>
<text transform="translate(166.82,1640.49) scale(0.9425,1)" font-size="19.8" fill="#df7fe0" stroke="#fff" stroke-width="0.28">Digestive Gland</text>
<text transform="translate(166.82,1668.98) scale(0.9425,1)" font-size="19.8" fill="#3a8230" stroke="#fff" stroke-width="0.28">Digestive Gland</text>
<text transform="translate(139.95,1697.47) scale(1.0002,1)" font-size="19.8" fill="#20578f" stroke="#fff" stroke-width="0.28">Stomach contents</text>
<text transform="translate(139.95,1725.95) scale(1.0002,1)" font-size="19.8" fill="#df7fe0" stroke="#fff" stroke-width="0.28">Stomach contents</text>
<text transform="translate(139.95,1754.44) scale(1.0002,1)" font-size="19.8" fill="#3a8230" stroke="#fff" stroke-width="0.28">Stomach contents</text>
<text transform="translate(235.18,1782.93) scale(0.9620,1)" font-size="19.8" fill="#20578f" stroke="#fff" stroke-width="0.28">Caecum</text>
<text transform="translate(235.18,1811.42) scale(0.9620,1)" font-size="19.8" fill="#df7fe0" stroke="#fff" stroke-width="0.28">Caecum</text>
<text transform="translate(235.18,1839.91) scale(0.9620,1)" font-size="19.8" fill="#3a8230" stroke="#fff" stroke-width="0.28">Caecum</text>
<text transform="translate(230.41,1868.39) scale(1.0632,1)" font-size="19.8" fill="#20578f" stroke="#fff" stroke-width="0.28">Intestine</text>
<text transform="translate(230.41,1896.88) scale(1.0632,1)" font-size="19.8" fill="#df7fe0" stroke="#fff" stroke-width="0.28">Intestine</text>
<text transform="translate(230.41,1925.37) scale(1.0632,1)" font-size="19.8" fill="#3a8230" stroke="#fff" stroke-width="0.28">Intestine</text>
<text transform="translate(194.43,1953.86) scale(0.9779,1)" font-size="19.8" fill="#20578f" stroke="#fff" stroke-width="0.28">Ovary/gonad</text>
<text transform="translate(194.43,1982.35) scale(0.9779,1)" font-size="19.8" fill="#df7fe0" stroke="#fff" stroke-width="0.28">Ovary/gonad</text>
<text transform="translate(194.43,2010.83) scale(0.9779,1)" font-size="19.8" fill="#3a8230" stroke="#fff" stroke-width="0.28">Ovary/gonad</text>
<text transform="translate(229.81,2039.32) scale(1.0057,1)" font-size="19.8" fill="#20578f" stroke="#fff" stroke-width="0.28">Oviducts</text>
<text transform="translate(229.81,2067.81) scale(1.0057,1)" font-size="19.8" fill="#df7fe0" stroke="#fff" stroke-width="0.28">Oviducts</text>
<text transform="translate(229.81,2096.30) scale(1.0057,1)" font-size="19.8" fill="#3a8230" stroke="#fff" stroke-width="0.28">Oviducts</text>
<text transform="translate(167.42,2124.79) scale(0.9891,1)" font-size="19.8" fill="#20578f" stroke="#fff" stroke-width="0.28">Oviductal gland</text>
<text transform="translate(167.42,2153.27) scale(0.9891,1)" font-size="19.8" fill="#df7fe0" stroke="#fff" stroke-width="0.28">Oviductal gland</text>
<text transform="translate(167.42,2181.76) scale(0.9891,1)" font-size="19.8" fill="#3a8230" stroke="#fff" stroke-width="0.28">Oviductal gland</text>
<text transform="translate(177.03,2210.25) scale(0.9443,1)" font-size="19.8" fill="#20578f" stroke="#fff" stroke-width="0.28">Terminal organ</text>
<text transform="translate(177.03,2238.74) scale(0.9443,1)" font-size="19.8" fill="#df7fe0" stroke="#fff" stroke-width="0.28">Terminal organ</text>
<text transform="translate(177.03,2267.23) scale(0.9443,1)" font-size="19.8" fill="#3a8230" stroke="#fff" stroke-width="0.28">Terminal organ</text>
<rect x="2.6" y="1805" width="11.3" height="11" fill="#000"/>
<rect x="2.6" y="1843.3" width="11.3" height="11.1" fill="#808080"/>
<rect x="2.9" y="1883" width="11.4" height="11" fill="#fff" stroke="#000" stroke-width="1.4"/>
<text transform="translate(21.50,1819.00) scale(0.9317,1)" font-size="19.6" fill="#505050" stroke="#fff" stroke-width="0.28">Present</text>
<text transform="translate(21.53,1855.80) scale(0.9166,1)" font-size="19.6" fill="#505050" stroke="#fff" stroke-width="0.28">Possibly Present</text>
<text transform="translate(24.26,1897.00) scale(0.9517,1)" font-size="19.6" fill="#505050" stroke="#fff" stroke-width="0.28">Absent</text>
<text transform="translate(0.69,1991.80) scale(0.9687,1)" font-size="22.8" fill="#1b5590">Hjoula</text>
<text transform="translate(0.71,2039.00) scale(0.9559,1)" font-size="22.8" fill="#dc80e0">Haqel</text>
<text transform="translate(1.96,2086.40) scale(0.9092,1)" font-size="22.8" fill="#357f2b">Sahel Aalma</text>
</g>
</svg>
</body></html>
